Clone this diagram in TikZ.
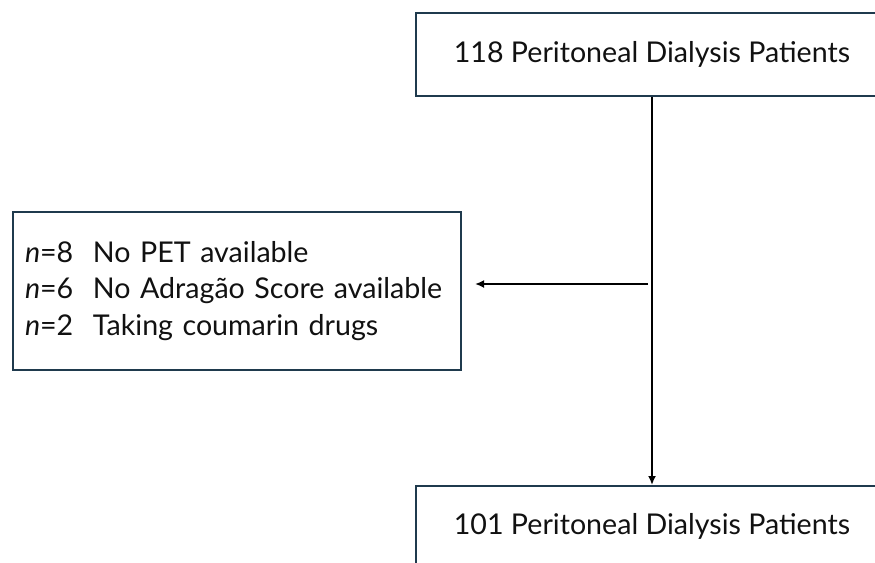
\documentclass[tikz,border=0pt]{standalone}
\usepackage{fontspec}
\setmainfont{Lato}
\usepackage{xcolor}
\usetikzlibrary{arrows.meta}

\definecolor{boxline}{HTML}{1F3A4D}
\definecolor{txt}{HTML}{111111}

% one line of the exclusion list
\newcommand{\exclline}[2]{\makebox[68pt][l]{\textit{n}=#1}#2}

\begin{document}
\begin{tikzpicture}[x=1pt, y=-1pt,
    flowbox/.style={draw=boxline, line width=2pt, text=txt, inner sep=0pt,
        font=\fontsize{28.6}{36.5}\selectfont},
    flowarrow/.style={line width=2.4pt, -{Latex[length=9pt, width=8pt]}}]
			\useasboundingbox (0, 0) rectangle (875, 562);
			\clip (0, 0) rectangle (875, 562);
			
			% Boxes
			\node[flowbox, minimum width=472pt, minimum height=83pt] (start) at (652, 54.5) {118 Peritoneal Dialysis Patients};
			\node[flowbox, minimum width=448pt, minimum height=158pt, text width=424pt, align=left] (excl) at (237, 291)
				{\exclline{8}{No PET available}\\
				 \exclline{6}{No Adragão Score available}\\
				 \exclline{2}{Taking coumarin drugs}};
			\node[flowbox, minimum width=472pt, minimum height=83pt, text depth=8pt] (final) at (652, 527.5) {101 Peritoneal Dialysis Patients};
			
			% Arrows
			\coordinate (split) at (648, 284);
			\draw[flowarrow] (start) -- (final);
			\draw[flowarrow, shorten >=13pt] (split) -- (split -| excl.east);
		\end{tikzpicture}
\end{document}
